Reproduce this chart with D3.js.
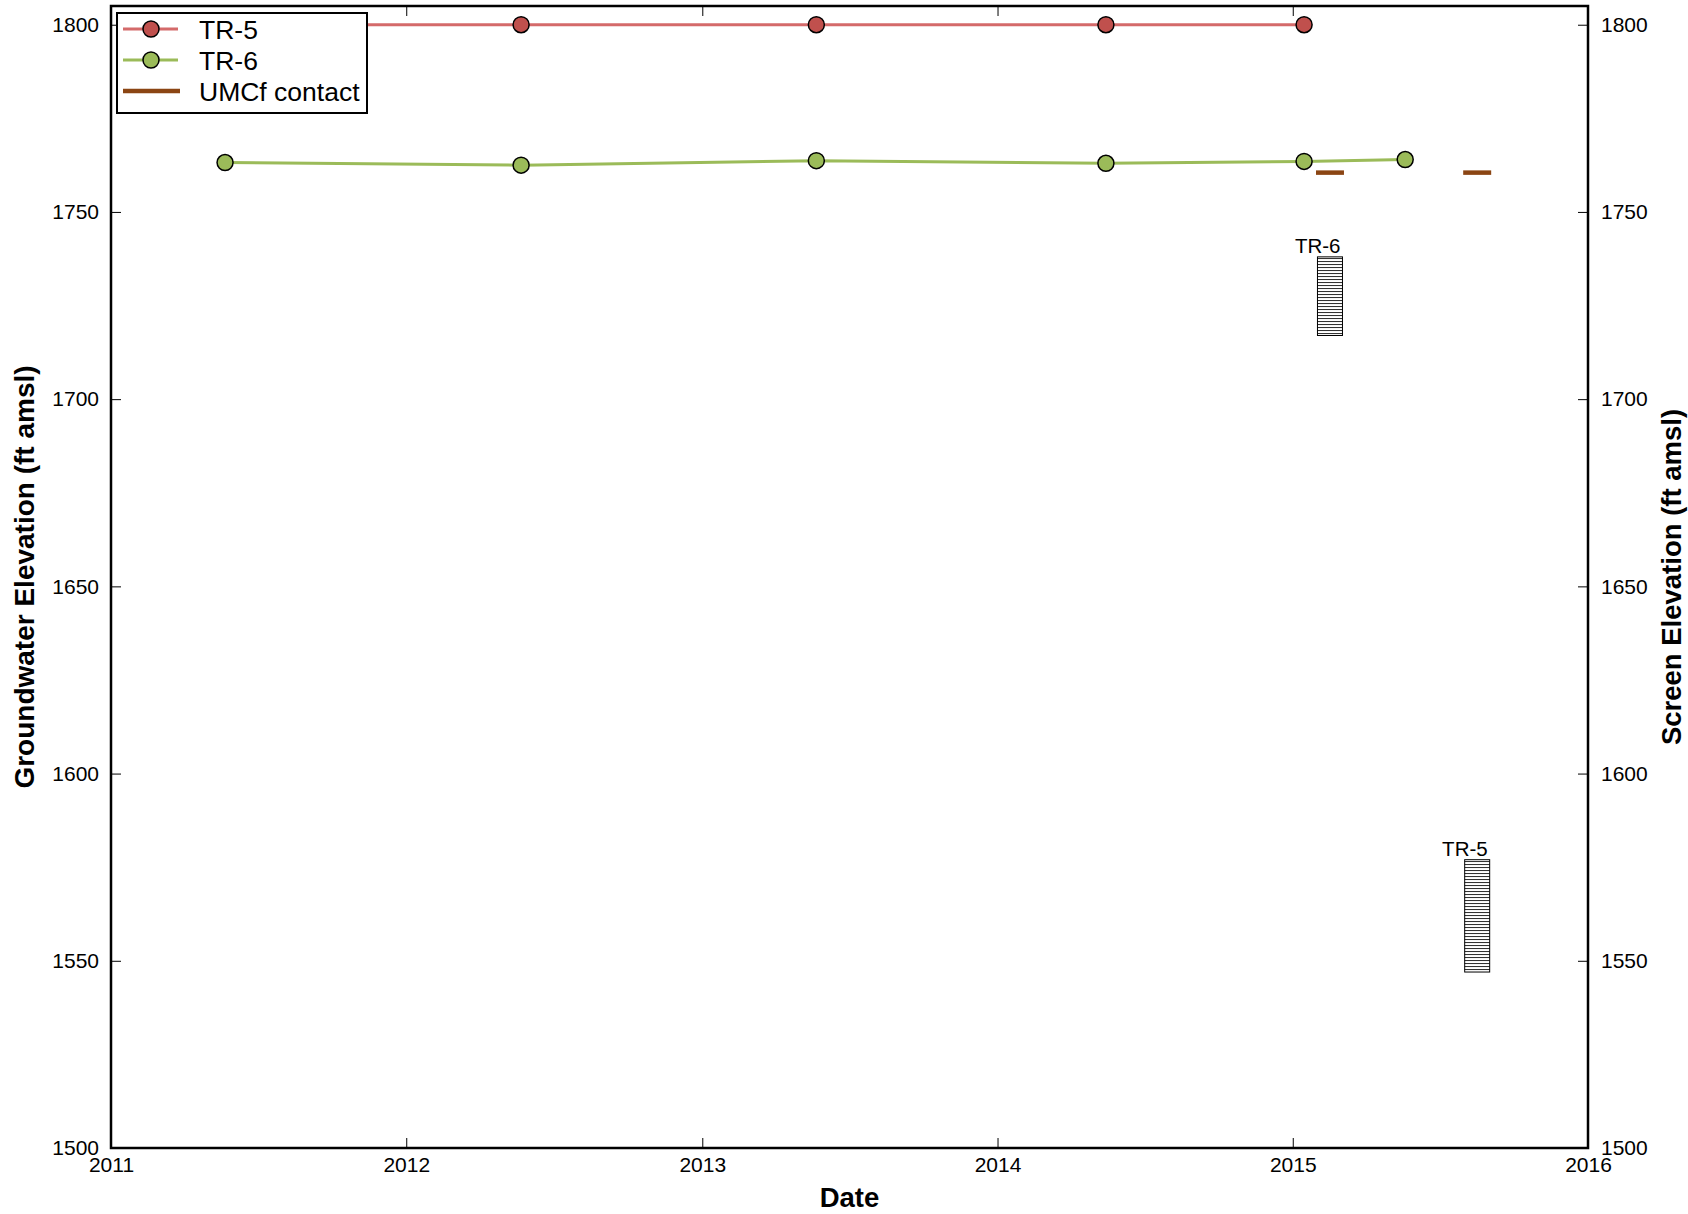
<!DOCTYPE html>
<html>
<head>
<meta charset="utf-8">
<script src="https://cdn.jsdelivr.net/npm/d3@7"></script>
<style>
  html, body { margin: 0; padding: 0; background: #fff; }
  svg { display: block; font-family: "Liberation Sans", Arial, sans-serif; }
</style>
</head>
<body>
<svg id="chart" width="1688" height="1214"></svg>
<script>
// ---- data ----
const tr5Dates = ["2011-05-22", "2012-05-22", "2013-05-22", "2014-05-15", "2015-01-15"];
const tr5Values = [1800, 1800, 1800, 1800, 1800];
const tr6Dates = ["2011-05-22", "2012-05-22", "2013-05-22", "2014-05-15", "2015-01-15", "2015-05-20"];
const tr6Values = [1763.2, 1762.5, 1763.7, 1763.0, 1763.5, 1764.0];
const screenWells = ["TR-6", "TR-5"];
const screenDates = ["2015-02-16", "2015-08-17"];
const screenTop = [1738, 1577];
const screenBottom = [1717, 1547];
const umcfElev = [1760.5, 1760.5];
const xTickYears = [2011, 2012, 2013, 2014, 2015, 2016];
const yTicks = [1500, 1550, 1600, 1650, 1700, 1750, 1800];
const legendLabels = ["TR-5", "TR-6", "UMCf contact"];

// ---- layout ----
const L = 111, R = 1588, T = 6, B = 1148;
const parse = d3.timeParse("%Y-%m-%d");
const svg = d3.select("#chart");

const x = d3.scaleTime()
  .domain([new Date(2011, 0, 1), new Date(2016, 0, 1)])
  .range([L, R]);
const y = d3.scaleLinear().domain([1500, 1805]).range([B, T]);

const redFill = "#C0504D", redLine = "#D46A6A";
const greenFill = "#9BBB59", greenLine = "#9BBB59";
const brown = "#8B4513";

// hatch pattern
const defs = svg.append("defs");
const pat = defs.append("pattern").attr("id", "hatch")
  .attr("patternUnits", "userSpaceOnUse").attr("width", 8).attr("height", 3);
pat.append("rect").attr("width", 8).attr("height", 3).attr("fill", "#fff");
pat.append("line").attr("x1", 0).attr("x2", 8).attr("y1", 0.5).attr("y2", 0.5)
  .attr("stroke", "#333").attr("stroke-width", 1.1);

defs.append("clipPath").attr("id", "clip").append("rect")
  .attr("x", L).attr("y", T).attr("width", R - L).attr("height", B - T);

const plot = svg.append("g").attr("clip-path", "url(#clip)");

// series
const tr5 = tr5Dates.map((d, i) => ({ d: parse(d), v: tr5Values[i] }));
const tr6 = tr6Dates.map((d, i) => ({ d: parse(d), v: tr6Values[i] }));
const line = d3.line().x(p => x(p.d)).y(p => y(p.v));

plot.append("path").datum(tr5).attr("d", line).attr("fill", "none")
  .attr("stroke", redLine).attr("stroke-width", 3);
plot.selectAll(".m5").data(tr5).join("circle")
  .attr("cx", p => x(p.d)).attr("cy", p => y(p.v)).attr("r", 8)
  .attr("fill", redFill).attr("stroke", "#000").attr("stroke-width", 1.5);

plot.append("path").datum(tr6).attr("d", line).attr("fill", "none")
  .attr("stroke", greenLine).attr("stroke-width", 3);
plot.selectAll(".m6").data(tr6).join("circle")
  .attr("cx", p => x(p.d)).attr("cy", p => y(p.v)).attr("r", 8)
  .attr("fill", greenFill).attr("stroke", "#000").attr("stroke-width", 1.5);

// UMCf contacts and screens
const halfSeg = 14, halfBox = 12.5;
screenWells.forEach((w, i) => {
  const cx = x(parse(screenDates[i]));
  plot.append("line")
    .attr("x1", cx - halfSeg).attr("x2", cx + halfSeg)
    .attr("y1", y(umcfElev[i])).attr("y2", y(umcfElev[i]))
    .attr("stroke", brown).attr("stroke-width", 4.5);
  const yt = y(screenTop[i]), yb = y(screenBottom[i]);
  plot.append("rect")
    .attr("x", cx - halfBox).attr("y", yt)
    .attr("width", 2 * halfBox).attr("height", yb - yt)
    .attr("fill", "url(#hatch)").attr("stroke", "#000").attr("stroke-width", 1);
  plot.append("text")
    .attr("x", cx + halfBox - 2).attr("y", yt - 4)
    .attr("text-anchor", "end").attr("font-size", 20.5).attr("fill", "#000")
    .text(w);
});

// axes
const tickLen = 10;
const xTickDates = xTickYears.map(yr => new Date(yr, 0, 1));
const axB = svg.append("g").attr("transform", `translate(0,${B})`)
  .call(d3.axisBottom(x).tickValues(xTickDates).tickFormat(d3.timeFormat("%Y"))
    .tickSizeInner(-tickLen).tickSizeOuter(0).tickPadding(9));
const axT = svg.append("g").attr("transform", `translate(0,${T})`)
  .call(d3.axisTop(x).tickValues(xTickDates).tickFormat("")
    .tickSizeInner(-tickLen).tickSizeOuter(0));
const axL = svg.append("g").attr("transform", `translate(${L},0)`)
  .call(d3.axisLeft(y).tickValues(yTicks).tickFormat(d3.format("d"))
    .tickSizeInner(-tickLen).tickSizeOuter(0).tickPadding(12));
const axR = svg.append("g").attr("transform", `translate(${R},0)`)
  .call(d3.axisRight(y).tickValues(yTicks).tickFormat(d3.format("d"))
    .tickSizeInner(-tickLen).tickSizeOuter(0).tickPadding(13));

[axB, axT, axL, axR].forEach(a => {
  a.select(".domain").remove();
  a.selectAll(".tick line").attr("stroke", "#000").attr("stroke-width", 1);
  a.selectAll(".tick text").attr("font-size", 21).attr("fill", "#000")
    .attr("font-family", "'Liberation Sans', Arial, sans-serif");
});

// frame
svg.append("rect").attr("x", L).attr("y", T).attr("width", R - L).attr("height", B - T)
  .attr("fill", "none").attr("stroke", "#000").attr("stroke-width", 2.5);

// axis titles
svg.append("text").attr("x", (L + R) / 2).attr("y", 1207)
  .attr("text-anchor", "middle").attr("font-size", 27.5).attr("font-weight", "bold")
  .text("Date");
svg.append("text").attr("transform", `translate(34,${(T + B) / 2}) rotate(-90)`)
  .attr("text-anchor", "middle").attr("font-size", 28).attr("font-weight", "bold")
  .text("Groundwater Elevation (ft amsl)");
svg.append("text").attr("transform", `translate(1681,${(T + B) / 2}) rotate(-90)`)
  .attr("text-anchor", "middle").attr("font-size", 27.5).attr("font-weight", "bold")
  .text("Screen Elevation (ft amsl)");

// legend
const lg = svg.append("g");
lg.append("rect").attr("x", 117).attr("y", 13).attr("width", 250).attr("height", 100)
  .attr("fill", "#fff").attr("stroke", "#000").attr("stroke-width", 2);
const rowY = [29, 60, 91];
const lgColors = [[redLine, redFill], [greenLine, greenFill]];
legendLabels.forEach((lab, i) => {
  if (i < 2) {
    lg.append("line").attr("x1", 123).attr("x2", 178).attr("y1", rowY[i]).attr("y2", rowY[i])
      .attr("stroke", lgColors[i][0]).attr("stroke-width", 3);
    lg.append("circle").attr("cx", 151).attr("cy", rowY[i]).attr("r", 8)
      .attr("fill", lgColors[i][1]).attr("stroke", "#000").attr("stroke-width", 1.5);
  } else {
    lg.append("line").attr("x1", 123).attr("x2", 180).attr("y1", rowY[i]).attr("y2", rowY[i])
      .attr("stroke", brown).attr("stroke-width", 4.5);
  }
  lg.append("text").attr("x", 199).attr("y", rowY[i] + 9.5)
    .attr("font-size", 26.5).attr("fill", "#000").text(lab);
});
</script>
</body>
</html>
